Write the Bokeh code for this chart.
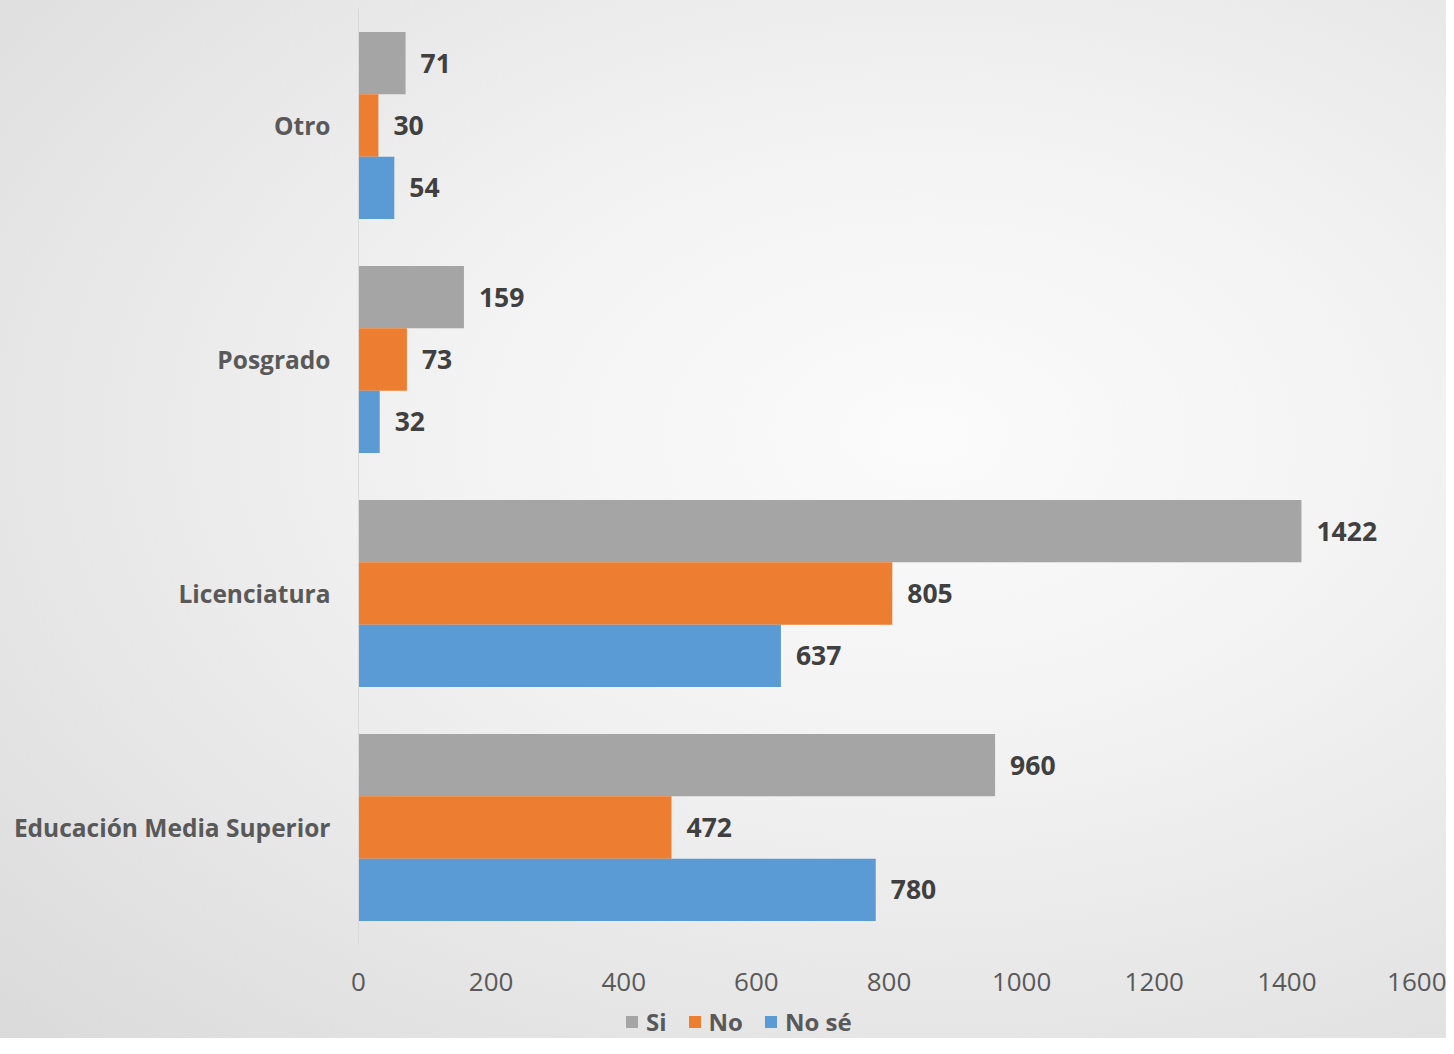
from bokeh.plotting import figure
from bokeh.layouts import column
from bokeh.models import ColumnDataSource, Range1d, FactorRange, FixedTicker, Legend, LegendItem
from bokeh.transform import dodge
from bokeh.core.properties import value
from bokeh.embed import file_html
from bokeh.resources import INLINE

# ---- data ----
categories = ["Educación Media Superior", "Licenciatura", "Posgrado", "Otro"]
series_names = ["Si", "No", "No sé"]
si = [960, 1422, 159, 71]
no = [472, 805, 73, 30]
no_se = [780, 637, 32, 54]
x_ticks = [0, 200, 400, 600, 800, 1000, 1200, 1400, 1600]

colors = ["#a5a5a5", "#ed7d31", "#5b9bd5"]
FONT = "Open Sans"

src = ColumnDataSource(dict(
    cat=categories,
    si=si, no=no, no_se=no_se,
    si_t=[str(v) for v in si],
    no_t=[str(v) for v in no],
    no_se_t=[str(v) for v in no_se],
))

W = 1446
p = figure(width=W, height=1004,
           y_range=FactorRange(factors=categories),
           x_range=Range1d(0, 1600),
           output_backend="svg", toolbar_location=None,
           min_border_left=358, min_border_right=27,
           min_border_top=8, min_border_bottom=60)

p.background_fill_alpha = 0
p.border_fill_alpha = 0
p.outline_line_color = None
p.xgrid.grid_line_color = None
p.ygrid.grid_line_color = None

bw = 0.2667
offsets = [bw, 0.0, -bw]
fields = ["si", "no", "no_se"]
for f, off, c in zip(fields, offsets, colors):
    p.hbar(y=dodge("cat", off, range=p.y_range), left=0, right=f, height=bw,
           source=src, fill_color=c, line_color=None)
    p.text(x=f, y=dodge("cat", off, range=p.y_range), text=f + "_t", source=src,
           x_offset=15, text_align="left", text_baseline="middle",
           text_font=value(FONT), text_font_style="bold",
           text_font_size="26.5px", text_color="#404040")

# x axis
xa = p.xaxis[0]
xa.ticker = FixedTicker(ticks=x_ticks)
xa.axis_line_color = None
xa.major_tick_line_color = None
xa.minor_tick_line_color = None
xa.major_label_standoff = 22
xa.major_label_text_font = FONT
xa.major_label_text_font_size = "26px"
xa.major_label_text_color = "#595959"

# y axis
ya = p.yaxis[0]
ya.axis_line_color = "#d9d9d9"
ya.axis_line_width = 1
ya.major_tick_line_color = None
ya.minor_tick_line_color = None
ya.major_label_standoff = 22
ya.major_label_text_font = FONT
ya.major_label_text_font_style = "bold"
ya.major_label_text_font_size = "24.5px"
ya.major_label_text_color = "#595959"

# ---- legend strip (its frame is aligned with the main frame by the column) ----
lg = figure(width=W, height=34, x_range=Range1d(0, 1), y_range=Range1d(0, 1),
            output_backend="svg", toolbar_location=None,
            x_axis_location=None, y_axis_location=None,
            min_border_left=358, min_border_right=27, min_border_top=0, min_border_bottom=0)
lg.background_fill_alpha = 0
lg.border_fill_alpha = 0
lg.outline_line_color = None
lg.xgrid.grid_line_color = None
lg.ygrid.grid_line_color = None
lg_renderers = []
for c in colors:
    # zero-size placeholder bars that only provide the legend swatches
    lg_renderers.append(lg.hbar(y=[0], left=[0], right=[0], height=0,
                                fill_color=c, line_color=None))

legend = Legend(items=[LegendItem(label=n, renderers=[r]) for n, r in zip(series_names, lg_renderers)],
                location=(266, 0), orientation="horizontal",
                background_fill_alpha=0, border_line_alpha=0,
                label_text_font=FONT, label_text_font_size="24px",
                label_text_font_style="bold",
                label_text_color="#595959",
                glyph_width=15, glyph_height=15, label_standoff=7,
                spacing=20, padding=0, margin=0)
lg.add_layout(legend, "center")

layout = column(p, lg, spacing=0,
                styles={"background": "radial-gradient(ellipse at 64% 42%, #fbfbfb 0%, #f3f3f3 35%, #e6e6e6 70%, #dadada 100%)"})

open("out.html", "w").write(file_html(layout, INLINE))
